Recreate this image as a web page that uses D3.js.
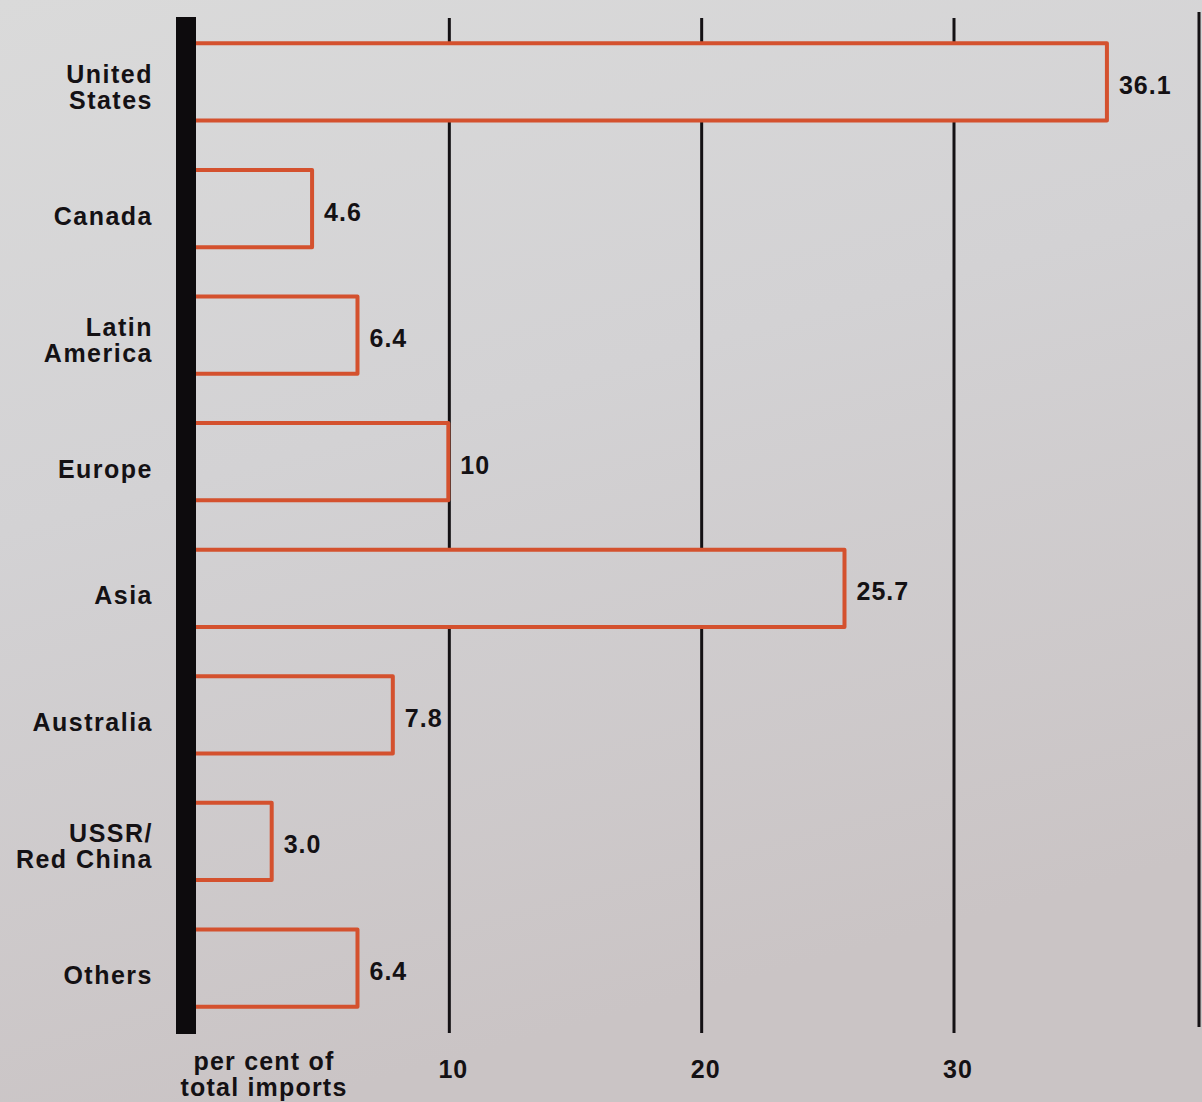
<!DOCTYPE html>
<html>
<head>
<meta charset="utf-8">
<script src="https://cdn.jsdelivr.net/npm/d3@7"></script>
<style>
  html, body { margin: 0; padding: 0; background: #d6d5d6; }
  svg { display: block; }
  text { font-family: "Liberation Sans", Arial, sans-serif; font-weight: bold; fill: #141114; }
</style>
</head>
<body>
<svg id="chart" width="1202" height="1102"></svg>
<script>
// Share of total imports by region of origin (per cent)
const categories = [["United", "States"], ["Canada"], ["Latin", "America"], ["Europe"], ["Asia"], ["Australia"], ["USSR/", "Red China"], ["Others"]];
const values = [36.1, 4.6, 6.4, 10, 25.7, 7.8, 3.0, 6.4];
const valueLabels = ["36.1", "4.6", "6.4", "10", "25.7", "7.8", "3.0", "6.4"];
const ticks = [10, 20, 30];
const axisTitle = ["per cent of", "total imports"];

const W = 1202, H = 1102;
const svg = d3.select("#chart");

// paper background, slightly warmer towards the bottom
const defs = svg.append("defs");
const grad = defs.append("linearGradient").attr("id", "paper")
  .attr("gradientUnits", "userSpaceOnUse")
  .attr("x1", 0).attr("y1", 0).attr("x2", 300).attr("y2", H);
grad.append("stop").attr("offset", "0%").attr("stop-color", "#dadada");
grad.append("stop").attr("offset", "45%").attr("stop-color", "#d3d2d4");
grad.append("stop").attr("offset", "100%").attr("stop-color", "#cac4c5");
svg.append("rect").attr("width", W).attr("height", H).attr("fill", "url(#paper)");

const x = d3.scaleLinear().domain([0, 30]).range([196, 953]);
const y = d3.scaleBand().domain(d3.range(categories.length))
  .range([18, 1032]).paddingInner(0.39).paddingOuter(0.2);

const gridTop = 18, gridBottom = 1033;
const orange = "#d4512e";
const ink = "#141114";

// vertical grid lines
svg.append("g").selectAll("line").data(ticks).join("line")
  .attr("x1", d => x(d) + 1).attr("x2", d => x(d) + 1)
  .attr("y1", gridTop).attr("y2", gridBottom)
  .attr("stroke", ink).attr("stroke-width", 3);

// right frame line
svg.append("line").attr("x1", 1199).attr("x2", 1199).attr("y1", 12).attr("y2", 1027)
  .attr("stroke", ink).attr("stroke-width", 3);

// bars: filled with the paper colour so they hide the grid, open on the left
const bars = svg.append("g");
bars.selectAll("rect").data(values).join("rect")
  .attr("x", x(0)).attr("y", (d, i) => y(i))
  .attr("width", d => x(d) - x(0)).attr("height", y.bandwidth())
  .attr("fill", "url(#paper)");
bars.selectAll("path").data(values).join("path")
  .attr("d", (d, i) => {
    const x0 = x(0), x1 = x(d), y0 = y(i), y1 = y(i) + y.bandwidth();
    return `M${x0},${y0}H${x1}V${y1}H${x0}`;
  })
  .attr("fill", "none").attr("stroke", orange).attr("stroke-width", 4)
  .attr("stroke-linejoin", "round");

// thick black baseline bar
svg.append("rect").attr("x", 176).attr("y", 17).attr("width", 20).attr("height", 1017)
  .attr("fill", "#0d0b0d");

// value labels
svg.append("g").selectAll("text").data(values).join("text")
  .attr("x", d => x(d) + 12)
  .attr("y", (d, i) => y(i) + y.bandwidth() / 2 + 12)
  .attr("font-size", 25).attr("letter-spacing", 1)
  .text((d, i) => valueLabels[i]);

// category labels
const cat = svg.append("g").selectAll("text").data(categories).join("text")
  .attr("text-anchor", "end")
  .attr("font-size", 25).attr("letter-spacing", 1.5)
  .attr("x", 153)
  .attr("y", (d, i) => y(i) + y.bandwidth() / 2 + (d.length > 1 ? 14 : 16) - (d.length - 1) * 13);
cat.selectAll("tspan").data(d => d).join("tspan")
  .attr("x", 153).attr("dy", (d, j) => j === 0 ? 0 : 26)
  .text(d => d);

// tick labels
svg.append("g").selectAll("text").data(ticks).join("text")
  .attr("x", d => x(d) + 5).attr("y", 1078)
  .attr("text-anchor", "middle").attr("font-size", 25).attr("letter-spacing", 1)
  .text(d => d);

// axis title
svg.append("text").attr("text-anchor", "middle").attr("font-size", 25).attr("letter-spacing", 1.2)
  .selectAll("tspan").data(axisTitle).join("tspan")
  .attr("x", 264).attr("y", (d, i) => 1070 + i * 26)
  .text(d => d);
</script>
</body>
</html>
